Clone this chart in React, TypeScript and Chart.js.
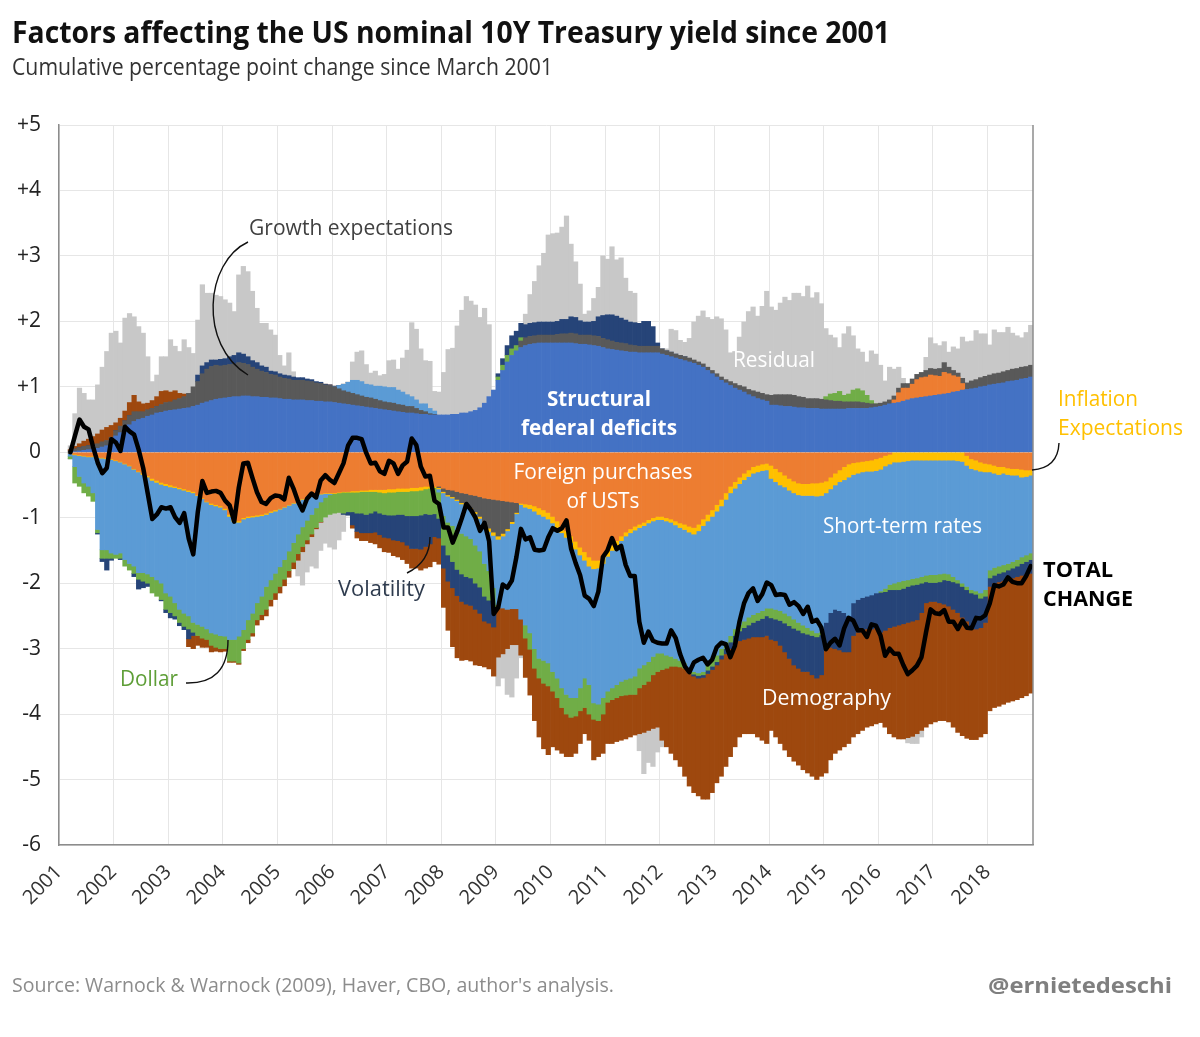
import React, { useEffect, useRef } from 'react';
import { Chart, registerables } from 'chart.js';

Chart.register(...registerables);

// ---------- categories / tick labels ----------
const YEARS = ['2001','2002','2003','2004','2005','2006','2007','2008','2009','2010','2011','2012','2013','2014','2015','2016','2017','2018'];
const MONTHS = ['Jan','Feb','Mar','Apr','May','Jun','Jul','Aug','Sep','Oct','Nov','Dec'];

// ---------- series (cumulative pp change since March 2001, monthly Jan 2001 - Oct 2018) ----------
const DEFICITS = [
  null, null, 0, 0.01, 0.02, 0.03, 0.04, 0.05, 0.06, 0.08, 0.1, 0.15,
  0.25, 0.3, 0.36, 0.42, 0.47, 0.5, 0.52, 0.55, 0.57, 0.6, 0.61, 0.63,
  0.64, 0.65, 0.66, 0.67, 0.68, 0.7, 0.72, 0.75, 0.77, 0.79, 0.81, 0.82,
  0.83, 0.84, 0.85, 0.85, 0.86, 0.86, 0.85, 0.85, 0.84, 0.84, 0.83, 0.83,
  0.82, 0.81, 0.81, 0.8, 0.8, 0.8, 0.79, 0.79, 0.78, 0.78, 0.77, 0.77,
  0.76, 0.75, 0.74, 0.73, 0.72, 0.71, 0.7, 0.69, 0.68, 0.67, 0.66, 0.65,
  0.64, 0.63, 0.62, 0.61, 0.6, 0.6, 0.59, 0.58, 0.58, 0.57, 0.57, 0.57,
  0.57, 0.57, 0.58, 0.58, 0.6, 0.6, 0.62, 0.64, 0.68, 0.75, 0.85, 0.95,
  1.1, 1.25, 1.38, 1.48, 1.55, 1.6, 1.63, 1.65, 1.66, 1.67, 1.67, 1.67,
  1.67, 1.67, 1.67, 1.67, 1.67, 1.66, 1.65, 1.65, 1.64, 1.63, 1.62, 1.6,
  1.58, 1.57, 1.56, 1.55, 1.54, 1.53, 1.53, 1.52, 1.52, 1.52, 1.52, 1.52,
  1.5, 1.48, 1.46, 1.44, 1.42, 1.4, 1.38, 1.36, 1.33, 1.3, 1.25, 1.2,
  1.15, 1.1, 1.06, 1.02, 0.98, 0.95, 0.92, 0.88, 0.85, 0.82, 0.8, 0.78,
  0.72, 0.72, 0.71, 0.7, 0.7, 0.69, 0.68, 0.68, 0.67, 0.67, 0.67, 0.66,
  0.66, 0.66, 0.66, 0.66, 0.66, 0.67, 0.67, 0.67, 0.67, 0.67, 0.68, 0.69,
  0.7, 0.72, 0.74, 0.75, 0.76, 0.78, 0.8, 0.82, 0.83, 0.84, 0.85, 0.86,
  0.87, 0.88, 0.89, 0.9, 0.92, 0.93, 0.95, 0.96, 0.97, 0.98, 1.0, 1.01,
  1.03, 1.04, 1.05, 1.06, 1.08, 1.09, 1.1, 1.12, 1.13, 1.15,
];

const FOREIGN = [
  null, null, -0.01, -0.03, -0.04, -0.05, -0.06, -0.06, -0.07, -0.08, -0.09, -0.1,
  -0.12, -0.14, -0.17, -0.2, -0.25, -0.29, -0.32, -0.36, -0.4, -0.43, -0.46, -0.48,
  -0.5, -0.52, -0.54, -0.56, -0.58, -0.6, -0.65, -0.7, -0.75, -0.78, -0.8, -0.82,
  -0.86, -0.95, -1.03, -1.05, -1.0, -0.98, -0.97, -0.96, -0.95, -0.93, -0.9, -0.88,
  -0.86, -0.83, -0.8, -0.77, -0.74, -0.71, -0.68, -0.66, -0.64, -0.63, -0.62, -0.62,
  -0.62, -0.61, -0.6, -0.6, -0.59, -0.59, -0.58, -0.58, -0.57, -0.57, -0.57, -0.57,
  -0.56, -0.56, -0.55, -0.55, -0.55, -0.54, -0.54, -0.53, -0.52, -0.52, -0.52, -0.52,
  -0.55, -0.57, -0.58, -0.6, -0.62, -0.63, -0.65, -0.66, -0.68, -0.7, -0.71, -0.72,
  -0.73, -0.74, -0.75, -0.76, -0.77, -0.78, -0.79, -0.8, -0.82, -0.85, -0.88, -0.92,
  -0.98, -1.05, -1.13, -1.2, -1.28, -1.36, -1.45, -1.52, -1.6, -1.65, -1.65, -1.6,
  -1.5, -1.42, -1.35, -1.28, -1.22, -1.17, -1.13, -1.1, -1.07, -1.03, -1.0, -0.98,
  -0.98, -1.0, -1.02, -1.05, -1.08, -1.1, -1.13, -1.15, -1.1, -1.02, -0.95, -0.88,
  -0.8, -0.72, -0.62, -0.52, -0.45, -0.38, -0.32, -0.27, -0.22, -0.2, -0.18, -0.17,
  -0.2, -0.25, -0.3, -0.35, -0.4, -0.44, -0.47, -0.48, -0.48, -0.47, -0.47, -0.46,
  -0.44, -0.38, -0.32, -0.27, -0.22, -0.18, -0.16, -0.15, -0.14, -0.13, -0.12, -0.1,
  -0.08, -0.05, -0.03, 0.05, 0.15, 0.2, 0.18, 0.22, 0.28, 0.3, 0.3, 0.32,
  0.3, 0.28, 0.33, 0.3, 0.25, 0.22, 0.1, -0.05, -0.1, -0.12, -0.15, -0.17,
  -0.18, -0.2, -0.22, -0.22, -0.24, -0.25, -0.25, -0.26, -0.27, -0.27,
];

const GROWTH = [
  null, null, 0.02, 0.04, 0.05, 0.06, 0.06, 0.07, 0.07, 0.08, 0.08, 0.08,
  0.08, 0.1, 0.12, 0.14, 0.15, 0.12, 0.1, 0.1, 0.1, 0.1, 0.12, 0.13,
  0.13, 0.15, 0.16, 0.18, 0.22, 0.3, 0.36, 0.45, 0.5, 0.52, 0.52, 0.5,
  0.5, 0.5, 0.5, 0.52, 0.5, 0.48, 0.45, 0.42, 0.4, 0.38, 0.36, 0.35,
  0.33, 0.32, 0.31, 0.3, 0.3, 0.3, 0.3, 0.29, 0.28, 0.27, 0.26, 0.25,
  0.24, 0.22, 0.2, 0.19, 0.18, 0.17, 0.16, 0.15, 0.15, 0.14, 0.13, 0.12,
  0.12, 0.12, 0.11, 0.11, 0.1, 0.1, 0.08, 0.06, 0.04, 0.02, 0.01, -0.02,
  -0.05, -0.08, -0.1, -0.12, -0.15, -0.18, -0.2, -0.25, -0.3, -0.4, -0.45, -0.5,
  -0.55, -0.5, -0.42, -0.3, -0.15, 0.1, 0.12, 0.12, 0.12, 0.12, 0.12, 0.12,
  0.12, 0.13, 0.14, 0.14, 0.15, 0.15, 0.14, 0.14, 0.15, 0.15, 0.15, 0.14,
  0.14, 0.13, 0.12, 0.12, 0.12, 0.11, 0.1, 0.1, 0.1, 0.1, 0.1, 0.1,
  0.08, 0.07, 0.07, 0.06, 0.06, 0.06, 0.06, 0.05, 0.05, 0.05, 0.05, 0.05,
  0.05, 0.05, 0.05, 0.06, 0.07, 0.07, 0.08, 0.08, 0.09, 0.1, 0.1, 0.1,
  0.15, 0.16, 0.17, 0.18, 0.18, 0.18, 0.17, 0.16, 0.15, 0.15, 0.15, 0.15,
  0.14, 0.13, 0.12, 0.12, 0.11, 0.1, 0.1, 0.1, 0.09, 0.08, 0.06, 0.05,
  0.05, 0.05, 0.06, 0.06, 0.07, 0.07, 0.07, 0.08, 0.08, 0.08, 0.1, 0.1,
  0.1, 0.12, 0.15, 0.1, 0.08, 0.06, 0.08, 0.1, 0.12, 0.13, 0.14, 0.15,
  0.15, 0.16, 0.16, 0.17, 0.17, 0.18, 0.18, 0.18, 0.18, 0.18,
];

const INFLATION = [
  null, null, 0, -0.01, -0.01, -0.01, -0.01, -0.01, -0.01, -0.01, -0.01, -0.01,
  -0.01, -0.01, -0.01, -0.01, -0.01, -0.01, -0.02, -0.02, -0.03, -0.03, -0.03, -0.03,
  -0.03, -0.02, -0.02, -0.02, -0.02, -0.02, -0.01, -0.01, -0.01, -0.02, -0.02, -0.02,
  -0.02, -0.03, -0.03, -0.02, -0.02, -0.02, -0.02, -0.02, -0.02, -0.02, -0.02, -0.02,
  -0.01, -0.01, -0.01, -0.01, -0.01, -0.01, -0.01, -0.01, -0.01, -0.01, -0.01, -0.01,
  -0.01, -0.01, -0.01, -0.01, -0.02, -0.02, -0.02, -0.02, -0.03, -0.03, -0.04, -0.05,
  -0.05, -0.05, -0.05, -0.05, -0.05, -0.05, -0.05, -0.05, -0.04, -0.03, -0.02, -0.02,
  -0.02, -0.02, -0.02, -0.02, -0.02, -0.02, -0.02, -0.03, -0.03, -0.05, -0.05, -0.05,
  -0.05, -0.04, -0.03, -0.03, -0.02, -0.02, -0.05, -0.06, -0.08, -0.1, -0.1, -0.1,
  -0.1, -0.1, -0.1, -0.1, -0.1, -0.12, -0.12, -0.13, -0.14, -0.13, -0.12, -0.1,
  -0.09, -0.08, -0.07, -0.07, -0.06, -0.06, -0.06, -0.05, -0.05, -0.05, -0.05, -0.05,
  -0.05, -0.05, -0.05, -0.06, -0.07, -0.08, -0.09, -0.1, -0.1, -0.1, -0.1, -0.1,
  -0.1, -0.1, -0.1, -0.1, -0.1, -0.1, -0.1, -0.1, -0.1, -0.1, -0.1, -0.1,
  -0.2, -0.2, -0.2, -0.18, -0.18, -0.18, -0.18, -0.18, -0.18, -0.19, -0.2, -0.2,
  -0.18, -0.18, -0.18, -0.18, -0.2, -0.2, -0.18, -0.17, -0.16, -0.16, -0.17, -0.18,
  -0.18, -0.16, -0.15, -0.15, -0.15, -0.14, -0.13, -0.12, -0.12, -0.12, -0.12, -0.12,
  -0.12, -0.12, -0.12, -0.12, -0.12, -0.13, -0.14, -0.15, -0.15, -0.15, -0.14, -0.13,
  -0.12, -0.12, -0.12, -0.1, -0.1, -0.1, -0.1, -0.12, -0.1, -0.08,
];

const SHORT_RATES = [
  null, null, -0.05, -0.18, -0.32, -0.41, -0.45, -0.55, -1.1, -1.4, -1.39, -1.43,
  -1.43, -1.39, -1.46, -1.49, -1.48, -1.54, -1.5, -1.48, -1.47, -1.49, -1.51, -1.64,
  -1.67, -1.76, -1.84, -1.88, -1.9, -1.98, -1.97, -1.95, -1.94, -1.96, -1.96, -1.96,
  -1.93, -1.88, -1.8, -1.74, -1.69, -1.56, -1.47, -1.32, -1.23, -1.1, -1.03, -0.95,
  -0.88, -0.8, -0.7, -0.6, -0.5, -0.42, -0.35, -0.28, -0.2, -0.12, -0.06, -0.02,
  0, 0.05, 0.1, 0.15, 0.2, 0.22, 0.22, 0.2, 0.2, 0.2, 0.22, 0.23,
  0.23, 0.24, 0.22, 0.2, 0.18, 0.15, 0.13, 0.1, 0.12, 0.08, 0.05, -0.05,
  -0.35, -0.4, -0.42, -0.45, -0.45, -0.45, -0.45, -0.48, -0.5, -0.55, -0.6, -0.8,
  -1.0, -1.1, -1.2, -1.3, -1.45, -1.75, -1.8, -1.9, -2.1, -2.2, -2.2, -2.2,
  -2.27, -2.3, -2.37, -2.4, -2.37, -2.27, -2.03, -1.8, -1.81, -2.05, -2.08, -2.05,
  -2.06, -2.1, -2.13, -2.15, -2.19, -2.22, -2.23, -2.15, -2.13, -2.12, -2.07, -2.04,
  -2.04, -2.05, -2.05, -2.04, -2.03, -2.04, -2.08, -2.1, -2.17, -2.23, -2.2, -2.19,
  -2.2, -2.18, -2.18, -2.18, -2.15, -2.15, -2.16, -2.15, -2.16, -2.15, -2.14, -2.11,
  -1.98, -1.95, -1.92, -1.93, -1.92, -1.93, -1.95, -1.98, -2.02, -2.06, -2.09, -2.08,
  -1.98, -1.89, -1.9, -1.97, -2.03, -2.12, -1.96, -1.93, -1.92, -1.91, -1.89, -1.87,
  -1.86, -1.87, -1.84, -1.85, -1.83, -1.82, -1.82, -1.81, -1.8, -1.78, -1.76, -1.75,
  -1.75, -1.74, -1.73, -1.74, -1.78, -1.82, -1.86, -1.85, -1.85, -1.85, -1.86, -1.8,
  -1.5, -1.44, -1.4, -1.4, -1.36, -1.32, -1.29, -1.22, -1.2, -1.19,
];

const DOLLAR = [
  null, null, -0.04, -0.25, -0.15, -0.15, -0.15, -0.13, -0.05, -0.13, -0.13, -0.08,
  -0.06, -0.08, -0.1, -0.1, -0.11, -0.1, -0.13, -0.14, -0.25, -0.25, -0.25, -0.25,
  -0.25, -0.2, -0.2, -0.2, -0.2, -0.15, -0.17, -0.18, -0.16, -0.19, -0.2, -0.2,
  -0.19, -0.33, -0.33, -0.41, -0.29, -0.3, -0.3, -0.26, -0.28, -0.35, -0.3, -0.3,
  -0.3, -0.3, -0.3, -0.3, -0.3, -0.3, -0.3, -0.3, -0.3, -0.3, -0.3, -0.3,
  -0.3, -0.3, -0.32, -0.3, -0.3, -0.32, -0.33, -0.35, -0.33, -0.3, -0.32, -0.33,
  -0.35, -0.35, -0.35, -0.35, -0.37, -0.38, -0.38, -0.38, -0.38, -0.4, -0.4, -0.4,
  -0.45, -0.5, -0.55, -0.6, -0.62, -0.62, -0.6, -0.58, -0.55, -0.5, -0.45, -0.3,
  0.05, 0.08, 0.1, 0.1, 0.08, 0.05, -0.2, -0.25, -0.3, -0.3, -0.35, -0.35,
  -0.3, -0.3, -0.3, -0.3, -0.3, -0.28, -0.35, -0.45, -0.45, -0.25, -0.25, -0.25,
  -0.17, -0.18, -0.2, -0.22, -0.24, -0.25, -0.28, -0.3, -0.3, -0.3, -0.28, -0.28,
  -0.25, -0.2, -0.15, -0.12, -0.1, -0.08, -0.05, -0.04, -0.04, -0.05, -0.08, -0.1,
  -0.1, -0.1, -0.1, -0.1, -0.1, -0.1, -0.1, -0.12, -0.12, -0.12, -0.12, -0.12,
  -0.15, -0.15, -0.15, -0.15, -0.15, -0.14, -0.12, -0.12, -0.1, -0.08, -0.06, -0.05,
  0.05, 0.1, 0.12, 0.15, 0.1, 0.12, 0.18, 0.2, 0.18, 0.12, 0.05, 0,
  -0.02, -0.05, -0.08, -0.1, -0.12, -0.12, -0.1, -0.1, -0.1, -0.1, -0.1, -0.12,
  -0.12, -0.12, -0.1, -0.1, -0.08, -0.05, -0.05, -0.05, -0.05, -0.05, -0.08, -0.1,
  -0.12, -0.12, -0.11, -0.11, -0.1, -0.1, -0.1, -0.1, -0.1, -0.1,
];

const VOLATILITY = [
  null, null, 0, 0, 0, 0, 0, 0, -0.02, -0.05, -0.18, -0.03,
  0, -0.02, 0, 0, -0.05, -0.15, -0.1, -0.05, 0, 0, -0.02, -0.05,
  -0.08, -0.05, -0.05, -0.05, -0.15, -0.05, 0.1, 0.12, 0.1, 0.1, 0.08, 0.1,
  0.1, 0.12, 0.13, 0.15, 0.14, 0.12, 0.1, 0.1, 0.08, 0.08, 0.05, 0.05,
  0.05, 0.05, 0.05, 0.05, 0.04, 0.04, 0.03, 0.03, 0.02, 0.02, 0.01, 0.01,
  0.01, 0, -0.02, -0.05, -0.2, -0.28, -0.3, -0.28, -0.3, -0.32, -0.33, -0.35,
  -0.35, -0.38, -0.4, -0.42, -0.45, -0.5, -0.5, -0.52, -0.5, -0.45, -0.35, -0.3,
  -0.35, -0.4, -0.4, -0.4, -0.42, -0.42, -0.42, -0.4, -0.4, -0.38, -0.35, -0.3,
  0.05, 0.1, 0.15, 0.2, 0.22, 0.22, 0.2, 0.2, 0.2, 0.2, 0.2, 0.2,
  0.2, 0.2, 0.22, 0.22, 0.25, 0.25, 0.22, 0.2, 0.2, 0.22, 0.3, 0.35,
  0.38, 0.4, 0.4, 0.38, 0.36, 0.35, 0.35, 0.35, 0.38, 0.38, 0.3, 0.05,
  0, 0, 0, 0, 0, 0, -0.02, -0.03, -0.04, -0.04, -0.05, -0.05,
  -0.05, -0.06, -0.08, -0.1, -0.12, -0.15, -0.18, -0.2, -0.22, -0.25, -0.28, -0.3,
  -0.33, -0.33, -0.38, -0.44, -0.5, -0.56, -0.58, -0.59, -0.57, -0.6, -0.63, -0.61,
  -0.4, -0.53, -0.6, -0.6, -0.6, -0.55, -0.5, -0.5, -0.5, -0.5, -0.52, -0.53,
  -0.61, -0.59, -0.58, -0.56, -0.54, -0.54, -0.55, -0.55, -0.54, -0.45, -0.32, -0.29,
  -0.29, -0.32, -0.37, -0.39, -0.42, -0.45, -0.47, -0.48, -0.5, -0.53, -0.45, -0.4,
  -0.13, -0.12, -0.13, -0.13, -0.14, -0.15, -0.16, -0.18, -0.19, -0.21,
];

const DEMOGRAPHY = [
  null, null, 0.02, 0.04, 0.06, 0.08, 0.1, 0.12, 0.15, 0.18, 0.2, 0.18,
  0.12, 0.12, 0.15, 0.2, 0.25, 0.15, 0.12, 0.1, 0.12, 0.15, 0.2, 0.18,
  0.15, 0.14, 0.08, 0.04, -0.12, -0.2, -0.15, -0.14, -0.12, -0.1, -0.06, -0.05,
  -0.04, -0.02, -0.02, -0.02, -0.03, -0.05, -0.05, -0.08, -0.08, -0.1, -0.1, -0.1,
  -0.1, -0.1, -0.1, -0.1, -0.1, -0.08, -0.06, -0.04, -0.02, -0.01, 0, 0,
  0, 0, 0, 0, -0.05, -0.1, -0.12, -0.12, -0.15, -0.18, -0.2, -0.22,
  -0.22, -0.24, -0.25, -0.27, -0.28, -0.3, -0.3, -0.32, -0.33, -0.35, -0.38, -0.4,
  -0.6, -0.75, -0.9, -0.95, -0.9, -0.85, -0.85, -0.85, -0.8, -0.7, -0.7, -0.75,
  -0.8, -0.7, -0.6, -0.55, -0.55, -0.55, -0.6, -0.7, -0.8, -0.9, -1.0, -1.05,
  -0.85, -0.8, -0.7, -0.65, -0.6, -0.57, -0.5, -0.4, -0.4, -0.62, -0.55, -0.6,
  -0.63, -0.67, -0.67, -0.68, -0.67, -0.65, -0.62, -0.7, -0.73, -0.75, -0.82, -0.85,
  -1.08, -1.2, -1.33, -1.43, -1.52, -1.65, -1.73, -1.78, -1.8, -1.86, -1.92, -1.88,
  -1.8, -1.79, -1.72, -1.65, -1.58, -1.47, -1.44, -1.46, -1.48, -1.53, -1.58, -1.65,
  -1.39, -1.47, -1.5, -1.5, -1.5, -1.47, -1.48, -1.5, -1.55, -1.55, -1.55, -1.55,
  -1.9, -1.72, -1.6, -1.53, -1.45, -1.4, -1.55, -1.55, -1.53, -1.5, -1.48, -1.47,
  -1.38, -1.48, -1.62, -1.69, -1.74, -1.76, -1.76, -1.76, -1.74, -1.8, -1.9, -1.87,
  -1.84, -1.8, -1.78, -1.77, -1.8, -1.83, -1.81, -1.79, -1.74, -1.69, -1.67, -1.7,
  -1.9, -1.9, -1.9, -1.89, -1.88, -1.88, -1.88, -1.87, -1.86, -1.83,
];

const RESIDUAL = [
  null, null, 0.06, 0.5, 0.85, 0.73, 0.6, 0.56, 0.75, 0.96, 1.16, 1.41,
  1.4, 1.15, 1.42, 1.36, 1.2, 1.15, 1.08, 0.71, 0.29, 0.33, 0.53, 0.52,
  0.8, 0.68, 0.64, 0.83, 0.7, 0.51, 0.84, 1.24, 1.06, 1.02, 0.99, 0.96,
  0.9, 0.82, 0.67, 1.19, 1.34, 1.3, 1.06, 0.83, 0.65, 0.67, 0.63, 0.56,
  0.28, 0.14, 0.35, 0.08, -0.24, -0.51, -0.43, -0.45, -0.6, -0.43, -0.4, -0.5,
  -0.55, -0.42, -0.26, -0.01, 0.28, 0.43, 0.47, 0.3, 0.18, 0.23, 0.16, 0.19,
  0.41, 0.42, 0.32, 0.52, 0.68, 1.13, 1.08, 0.84, 0.66, 0.72, 0.3, 0.35,
  0.65, 1.0, 1.01, 1.35, 1.57, 1.78, 1.69, 1.61, 1.38, 1.45, 1.1, 0,
  -0.44, -0.37, -0.7, -0.8, -0.51, -0.04, 0.16, 0.44, 0.63, 0.86, 1.05, 1.33,
  1.35, 1.35, 1.41, 1.58, 1.11, 0.85, 0.56, 0.12, 0.17, 0.35, 0.45, 0.91,
  0.85, 1.04, 0.86, 0.92, 0.64, 0.47, 0.45, -0.26, -0.63, -0.49, -0.58, -0.38,
  -0.1, 0.03, 0.35, 0.36, 0.23, 0.22, 0.3, 0.58, 0.7, 0.81, 0.76, 0.78,
  0.87, 0.89, 0.76, 0.44, 0.49, 0.74, 0.99, 1.19, 1.28, 1.16, 1.33, 1.58,
  1.35, 1.29, 1.4, 1.49, 1.44, 1.56, 1.58, 1.54, 1.72, 1.54, 1.62, 1.46,
  1.04, 0.9, 0.85, 0.67, 0.94, 1.03, 0.83, 0.61, 0.59, 0.51, 0.76, 0.76,
  0.58, 0.32, 0.5, 0.41, 0.32, 0.08, -0.08, -0.11, -0.15, -0.1, 0.2, 0.47,
  0.39, 0.35, 0.32, 0.23, 0.36, 0.37, 0.63, 0.63, 0.61, 0.75, 0.67, 0.65,
  0.46, 0.67, 0.62, 0.6, 0.66, 0.55, 0.5, 0.45, 0.52, 0.61,
];

const TOTAL_CHANGE = [
  null, null, 0, 0.25, 0.5, 0.39, 0.35, 0.08, -0.16, -0.32, -0.24, 0.2,
  0.15, 0.02, 0.39, 0.32, 0.27, 0.04, -0.24, -0.63, -1.02, -0.95, -0.84, -0.86,
  -0.84, -0.99, -1.08, -0.93, -1.32, -1.56, -0.91, -0.44, -0.62, -0.6, -0.59, -0.62,
  -0.74, -0.81, -1.06, -0.54, -0.17, -0.16, -0.39, -0.61, -0.76, -0.79, -0.7, -0.66,
  -0.67, -0.72, -0.39, -0.55, -0.75, -0.89, -0.71, -0.63, -0.69, -0.43, -0.35, -0.42,
  -0.47, -0.32, -0.17, 0.1, 0.22, 0.22, 0.2, -0.01, -0.17, -0.16, -0.29, -0.33,
  -0.13, -0.17, -0.33, -0.2, -0.14, 0.21, 0.11, -0.22, -0.37, -0.36, -0.74, -0.79,
  -1.15, -1.15, -1.38, -1.21, -1.01, -0.79, -0.88, -1.0, -1.2, -1.08, -1.36, -2.47,
  -2.37, -2.02, -2.07, -1.96, -1.6, -1.17, -1.33, -1.3, -1.49, -1.5, -1.49, -1.3,
  -1.16, -1.2, -1.16, -1.04, -1.47, -1.69, -1.88, -2.19, -2.24, -2.35, -2.13, -1.6,
  -1.5, -1.31, -1.48, -1.43, -1.72, -1.89, -1.89, -2.59, -2.91, -2.74, -2.88, -2.91,
  -2.92, -2.92, -2.72, -2.84, -3.09, -3.27, -3.36, -3.21, -3.17, -3.14, -3.24, -3.17,
  -2.98, -2.91, -2.93, -3.13, -2.96, -2.59, -2.31, -2.15, -2.08, -2.27, -2.17, -1.99,
  -2.03, -2.18, -2.17, -2.18, -2.33, -2.29, -2.35, -2.47, -2.36, -2.59, -2.56, -2.68,
  -3.01, -2.91, -2.85, -2.95, -2.69, -2.53, -2.57, -2.72, -2.72, -2.82, -2.63, -2.65,
  -2.8, -3.11, -3.0, -3.08, -3.08, -3.25, -3.39, -3.33, -3.26, -3.13, -2.75, -2.4,
  -2.46, -2.47, -2.41, -2.59, -2.59, -2.7, -2.57, -2.68, -2.69, -2.53, -2.54, -2.49,
  -2.31, -2.03, -2.05, -2.02, -1.91, -1.98, -2.0, -2.0, -1.89, -1.74,
];

const CATEGORIES = YEARS.flatMap((y) => MONTHS.map((m) => `${m} ${y}`)).slice(0, DEFICITS.length);

const FONT = '"Open Sans", "Noto Sans", sans-serif';

function drawText(ctx: CanvasRenderingContext2D, s: string, x: number, y: number, font: string, color: string, width: number, align: 'left' | 'center' = 'left') {
  ctx.save();
  ctx.font = font;
  ctx.fillStyle = color;
  ctx.textAlign = 'left';
  ctx.textBaseline = 'alphabetic';
  const w = ctx.measureText(s).width;
  const k = width / w;
  const left = align === 'center' ? x - width / 2 : x;
  ctx.translate(left, y);
  ctx.scale(k, 1);
  ctx.fillText(s, 0, 0);
  ctx.restore();
}

function curve(ctx: CanvasRenderingContext2D, pts: number[]) {
  ctx.save();
  ctx.strokeStyle = '#111';
  ctx.lineWidth = 1.4;
  ctx.beginPath();
  ctx.moveTo(pts[0], pts[1]);
  if (pts.length === 6) ctx.quadraticCurveTo(pts[2], pts[3], pts[4], pts[5]);
  else ctx.bezierCurveTo(pts[2], pts[3], pts[4], pts[5], pts[6], pts[7]);
  ctx.stroke();
  ctx.restore();
}

const decorPlugin = {
  id: 'decor',
  afterDraw(chart: any) {
    const ctx: CanvasRenderingContext2D = chart.ctx;
    const a = chart.chartArea;
    // right frame line
    ctx.save();
    ctx.strokeStyle = '#8c8c8c';
    ctx.lineWidth = 1.5;
    ctx.beginPath();
    ctx.moveTo(a.right, a.top);
    ctx.lineTo(a.right, a.bottom);
    ctx.stroke();
    ctx.restore();

    // year labels (rotated 45°, end anchored at each year boundary)
    const step = (a.right - a.left) / CATEGORIES.length;
    YEARS.forEach((yr, i) => {
      const xb = a.left + i * 12 * step;
      ctx.save();
      ctx.translate(xb, a.bottom + 24);
      ctx.rotate(-Math.PI / 4);
      ctx.font = `20px ${FONT}`;
      ctx.fillStyle = '#333333';
      ctx.textAlign = 'right';
      ctx.textBaseline = 'middle';
      ctx.fillText(yr, 0, 0);
      ctx.restore();
    });

    // titles
    drawText(ctx, 'Factors affecting the US nominal 10Y Treasury yield since 2001', 12, 43, `bold 30px ${FONT}`, '#111111', 878);
    drawText(ctx, 'Cumulative percentage point change since March 2001', 12, 75, `24px ${FONT}`, '#333333', 541);

    // in-chart labels
    drawText(ctx, 'Growth expectations', 249, 235, `21px ${FONT}`, '#404040', 204);
    drawText(ctx, 'Residual', 733, 367, `21px ${FONT}`, '#ffffff', 82);
    drawText(ctx, 'Structural', 599, 406, `bold 22px ${FONT}`, '#ffffff', 104, 'center');
    drawText(ctx, 'federal deficits', 599, 435, `bold 22px ${FONT}`, '#ffffff', 156, 'center');
    drawText(ctx, 'Foreign purchases', 603, 479, `21px ${FONT}`, '#ffffff', 179, 'center');
    drawText(ctx, 'of USTs', 603, 508, `21px ${FONT}`, '#ffffff', 73, 'center');
    drawText(ctx, 'Short-term rates', 823, 533, `21px ${FONT}`, '#ffffff', 159);
    drawText(ctx, 'Volatility', 338, 596, `21px ${FONT}`, '#2E3B4E', 87);
    drawText(ctx, 'Dollar', 120, 686, `21px ${FONT}`, '#5E9E37', 58);
    drawText(ctx, 'Demography', 762, 705, `21px ${FONT}`, '#ffffff', 129);
    drawText(ctx, 'Inflation', 1058, 406, `21px ${FONT}`, '#FFC000', 80);
    drawText(ctx, 'Expectations', 1058, 435, `21px ${FONT}`, '#FFC000', 125);
    drawText(ctx, 'TOTAL', 1043, 577, `bold 21px ${FONT}`, '#000000', 70);
    drawText(ctx, 'CHANGE', 1043, 606, `bold 21px ${FONT}`, '#000000', 90);

    // pointer curves
    curve(ctx, [248, 242, 205, 262, 198, 345, 248, 375]);
    curve(ctx, [407, 573, 430, 562, 430, 537]);
    curve(ctx, [186, 683, 228, 684, 228, 640]);
    curve(ctx, [1059, 443, 1058, 468, 1032, 470]);

    // footer
    drawText(ctx, "Source: Warnock & Warnock (2009), Haver, CBO, author's analysis.", 12, 992, `20px ${FONT}`, '#8c8c8c', 602);
    drawText(ctx, '@ernietedeschi', 988, 993, `bold 21px ${FONT}`, '#7f7f7f', 184);
  },
};

export default function App() {
  const ref = useRef<HTMLCanvasElement | null>(null);

  useEffect(() => {
    const canvas = ref.current;
    if (!canvas) return;
    const bar = (label: string, data: (number | null)[], color: string) => ({
      type: 'bar' as const,
      label,
      data,
      backgroundColor: color,
      borderWidth: 0,
      barPercentage: 1,
      categoryPercentage: 1,
      order: 1,
    });
    const chart = new Chart(canvas, {
      type: 'bar',
      data: {
        labels: CATEGORIES,
        datasets: [
          {
            type: 'line',
            label: 'Total change',
            data: TOTAL_CHANGE,
            borderColor: '#000000',
            borderWidth: 4.5,
            pointRadius: 0,
            tension: 0,
            borderJoinStyle: 'round',
            borderCapStyle: 'round',
            order: 0,
          } as any,
          bar('Structural federal deficits', DEFICITS, '#4472C4'),
          bar('Foreign purchases of USTs', FOREIGN, '#ED7D31'),
          bar('Growth expectations', GROWTH, '#595959'),
          bar('Inflation expectations', INFLATION, '#FFC000'),
          bar('Short-term rates', SHORT_RATES, '#5B9BD5'),
          bar('Dollar', DOLLAR, '#70AD47'),
          bar('Volatility', VOLATILITY, '#264478'),
          bar('Demography', DEMOGRAPHY, '#9E480E'),
          bar('Residual', RESIDUAL, '#C8C8C8'),
        ],
      },
      options: {
        responsive: false,
        animation: false,
        devicePixelRatio: 1,
        layout: { padding: { left: 0, right: 167, top: 125, bottom: 100 } },
        plugins: { legend: { display: false }, tooltip: { enabled: false } },
        scales: {
          x: {
            stacked: true,
            grid: {
              offset: true,
              drawTicks: false,
              lineWidth: 1,
              color: (c: any) => (c.index % 12 === 0 ? '#e6e6e6' : 'rgba(0,0,0,0)'),
            },
            border: { color: '#8c8c8c', width: 1.5 },
            ticks: { display: false, autoSkip: false },
            afterFit: (s: any) => { s.height = 92; },
          },
          y: {
            stacked: true,
            min: -6,
            max: 5,
            grid: { color: '#e6e6e6', drawTicks: false, lineWidth: 1 },
            border: { color: '#8c8c8c', width: 1.5 },
            ticks: {
              stepSize: 1,
              padding: 18,
              color: '#222222',
              font: { family: FONT, size: 21 },
              callback: (v: any) => (v > 0 ? '+' + v : String(v)),
            },
            afterFit: (s: any) => { s.width = 59; },
          },
        },
      },
      plugins: [decorPlugin],
    } as any);
    return () => chart.destroy();
  }, []);

  return (
    <div style={{ position: 'absolute', left: 0, top: 0, width: 1200, height: 1037, background: '#ffffff' }}>
      <canvas ref={ref} width={1200} height={1037} style={{ display: 'block', width: 1200, height: 1037 }} />
    </div>
  );
}
